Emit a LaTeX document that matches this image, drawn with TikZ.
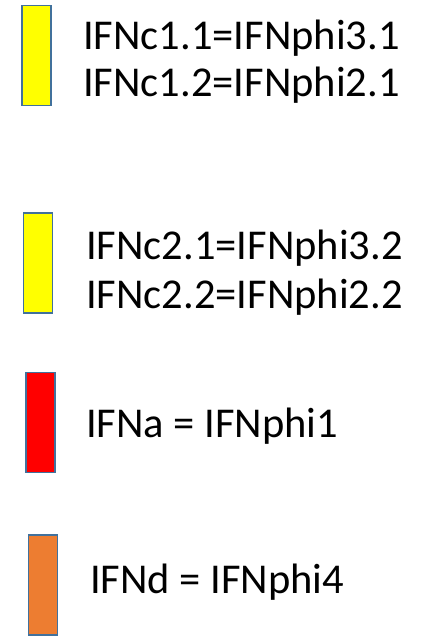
\documentclass[tikz,border=0pt]{standalone}
\usepackage{fontspec}
\setmainfont{Carlito}
\usepackage{xcolor}
\usepackage{tikz}
\definecolor{edge}{HTML}{41719C}
\definecolor{barYellow}{HTML}{FFFF00}
\definecolor{barRed}{HTML}{FF0000}
\definecolor{barOrange}{HTML}{ED7D31}
\tikzset{
  bar/.style={draw=edge, line width=1.5pt, minimum width=29pt, minimum height=100pt, inner sep=0pt},
  lab/.style={anchor=base west, inner sep=0pt, font=\fontsize{42.5}{47}\selectfont},
}

\begin{document}
\begin{tikzpicture}[x=1pt, y=-1pt]
\useasboundingbox (0,0) rectangle (420,636);
% colour bars
\node[bar, fill=barYellow] (barc1) at (36.5,55.5) {};
\node[bar, fill=barYellow] (barc2) at (38,263) {};
\node[bar, fill=barRed] (bara) at (40.5,422.5) {};
\node[bar, fill=barOrange] (bard) at (43,585) {};

% labels
\node[lab] (c11) at (83,50) {IFNc1.1=IFNphi3.1};
\node[lab] (c12) at (83,97) {IFNc1.2=IFNphi2.1};
\node[lab] (c21) at (86,259) {IFNc2.1=IFNphi3.2};
\node[lab] (c22) at (86,308) {IFNc2.2=IFNphi2.2};
\node[lab] (a) at (86,437) {IFNa = IFNphi1};
\node[lab] (d) at (90,593) {IFNd = IFNphi4};
\end{tikzpicture}
\end{document}
